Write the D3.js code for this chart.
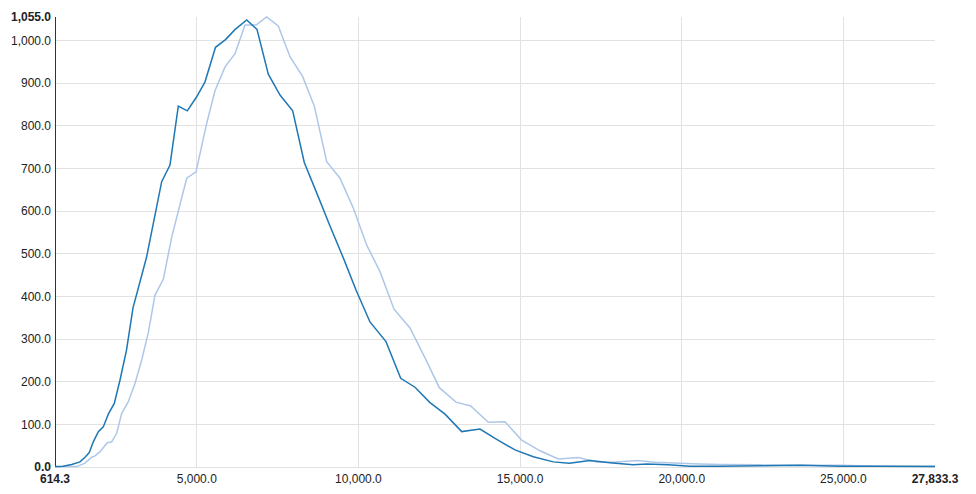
<!DOCTYPE html>
<html>
<head>
<meta charset="utf-8">
<script src="https://cdn.jsdelivr.net/npm/d3@7"></script>
<style>
  html, body { margin: 0; padding: 0; background: #fff; }
  svg { display: block; font-family: "Liberation Sans", Arial, sans-serif; }
</style>
</head>
<body>
<svg id="chart" width="976" height="494"></svg>
<script>
// Series A (dark blue): [x, y]
const seriesA_x = [614.3, 862, 1131, 1388, 1542, 1675, 1799, 1954, 2108, 2263, 2448, 2625, 2826, 3027, 3444, 3914, 4171, 4428, 4706, 4997, 5254, 5579, 5888, 6188, 6544, 6862, 7212, 7574, 7966, 8325, 8749, 9120, 9522, 9925, 10357, 10852, 11307, 11749, 12213, 12679, 13194, 13760, 14276, 14842, 15408, 16027, 16522, 17162, 17781, 18492, 18925, 19574, 20255, 21183, 22420, 23658, 24895, 26132, 27833.3];
const seriesA_y = [1, 2, 6, 12, 23, 34, 59, 83, 94, 124, 149, 204, 274, 373, 491, 669, 708, 846, 835, 868, 903, 984, 1002, 1026, 1048, 1026, 921, 872, 835, 714, 635, 565, 492, 415, 340, 294, 208, 187, 151, 124, 83, 89, 65, 40, 24, 12, 9, 15, 10, 5, 7, 5, 2, 2, 3, 4, 2, 2, 1];

// Series B (light blue): [x, y]
const seriesB_x = [614.3, 976, 1286, 1542, 1749, 1852, 2006, 2232, 2368, 2523, 2677, 2882, 3089, 3296, 3500, 3707, 3964, 4224, 4688, 4976, 5307, 5563, 5873, 6182, 6491, 6832, 7162, 7521, 7883, 8276, 8635, 9018, 9430, 9841, 10256, 10667, 11100, 11595, 12059, 12501, 13018, 13472, 14017, 14533, 15050, 15616, 16183, 16801, 17370, 17874, 18616, 19173, 19946, 20565, 21183, 22420, 23658, 24895, 26132, 27833.3];
const seriesB_y = [0, 1, 1, 9, 23, 26, 36, 57, 59, 79, 126, 153, 196, 251, 315, 403, 440, 539, 677, 692, 806, 882, 938, 969, 1036, 1036, 1055, 1034, 962, 915, 846, 716, 677, 607, 520, 458, 370, 326, 256, 186, 152, 143, 105, 106, 63, 38, 19, 22, 12, 11, 15, 11, 9, 7, 6, 5, 4, 4, 2, 2];

const xTicks = [5000, 10000, 15000, 20000, 25000];
const yTicks = [100, 200, 300, 400, 500, 600, 700, 800, 900, 1000];

const svg = d3.select("#chart");
const margin = { left: 55, right: 41, top: 17, bottom: 27 };
const W = 976, H = 494;

const allX = seriesA_x.concat(seriesB_x);
const allY = seriesA_y.concat(seriesB_y);
const xMin = d3.min(allX), xMax = d3.max(allX);
const yMin = 0, yMax = d3.max(allY);

const x = d3.scaleLinear().domain([xMin, xMax]).range([margin.left, W - margin.right]);
const y = d3.scaleLinear().domain([yMin, yMax]).range([H - margin.bottom, margin.top]);

const fmt = d3.format(",.1f");
const grid = "#e2e2e2";
const textColor = "#222";

// Horizontal grid
svg.append("g").selectAll("line").data(yTicks.concat([0])).join("line")
  .attr("x1", x(xMin)).attr("x2", x(xMax))
  .attr("y1", d => y(d)).attr("y2", d => y(d))
  .attr("stroke", grid).attr("stroke-width", 1).attr("shape-rendering", "crispEdges");

// Vertical grid
svg.append("g").selectAll("line").data(xTicks).join("line")
  .attr("x1", d => x(d)).attr("x2", d => x(d))
  .attr("y1", y(yMax)).attr("y2", y(0))
  .attr("stroke", grid).attr("stroke-width", 1).attr("shape-rendering", "crispEdges");

// Left axis line
svg.append("line")
  .attr("x1", x(xMin)).attr("x2", x(xMin))
  .attr("y1", y(yMax)).attr("y2", y(0))
  .attr("stroke", "#333").attr("stroke-width", 1).attr("shape-rendering", "crispEdges");

// Y labels
const yLab = svg.append("g").attr("font-size", 12).attr("fill", textColor).attr("text-anchor", "end");
yLab.selectAll("text.t").data(yTicks).join("text").attr("class", "t")
  .attr("x", x(xMin) - 4).attr("y", d => y(d)).attr("dy", "0.35em").text(d => fmt(d));
yLab.selectAll("text.e").data([yMin, yMax]).join("text").attr("class", "e")
  .attr("x", x(xMin) - 4).attr("y", d => y(d)).attr("dy", "0.35em")
  .attr("font-weight", "bold").text(d => fmt(d));

// X labels
const xLab = svg.append("g").attr("font-size", 12).attr("fill", textColor).attr("text-anchor", "middle");
xLab.selectAll("text.t").data(xTicks).join("text").attr("class", "t")
  .attr("x", d => x(d)).attr("y", y(0) + 16).text(d => fmt(d));
xLab.selectAll("text.e").data([xMin, xMax]).join("text").attr("class", "e")
  .attr("x", d => x(d)).attr("y", y(0) + 16)
  .attr("font-weight", "bold").text(d => fmt(d));

const line = d3.line().x(d => x(d[0])).y(d => y(d[1]));
const dataA = seriesA_x.map((v, i) => [v, seriesA_y[i]]);
const dataB = seriesB_x.map((v, i) => [v, seriesB_y[i]]);

svg.append("path").datum(dataB).attr("d", line)
  .attr("fill", "none").attr("stroke", "#aec7e8").attr("stroke-width", 1.5);
svg.append("path").datum(dataA).attr("d", line)
  .attr("fill", "none").attr("stroke", "#1f77b4").attr("stroke-width", 1.5);
</script>
</body>
</html>
